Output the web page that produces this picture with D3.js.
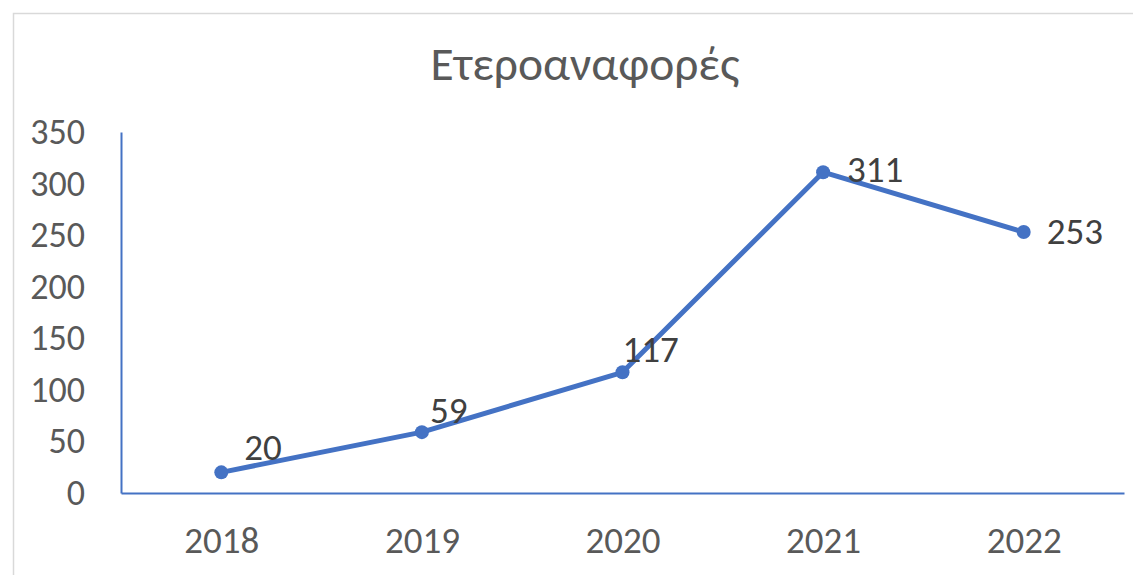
<!DOCTYPE html>
<html>
<head>
<meta charset="utf-8">
<script src="https://cdn.jsdelivr.net/npm/d3@7"></script>
<style>
    body { margin: 0; background: #fff; }
    svg text { font-family: Calibri, Carlito, "Open Sans", sans-serif; }
</style>
</head>
<body>
<div id="chart"></div>
<script>
// data
const years = ["2018", "2019", "2020", "2021", "2022"];
const values = [20, 59, 117, 311, 253];
const yTicks = [0, 50, 100, 150, 200, 250, 300, 350];
const title = "Ετεροαναφορές";

// label nudges (dx, dy) relative to each point
const labelOffsets = [[23, -21], [8, -18], [0, -19], [24, 1], [23, 3]];

const width = 1133, height = 575;
const margin = { top: 132, right: 9, bottom: 82, left: 121 };

const svg = d3.select("#chart")
    .append("svg")
    .attr("width", width)
    .attr("height", height);

// chart frame
svg.append("rect")
    .attr("x", 13.5)
    .attr("y", 13.5)
    .attr("width", width)
    .attr("height", height)
    .attr("fill", "none")
    .attr("stroke", "#d9d9d9")
    .attr("stroke-width", 1.5);

const x = d3.scalePoint()
    .domain(years)
    .range([margin.left, width - margin.right])
    .padding(0.5);

const y = d3.scaleLinear()
    .domain([0, 350])
    .range([height - margin.bottom, margin.top]);

// title
svg.append("text")
    .attr("x", 585)
    .attr("y", 80)
    .attr("text-anchor", "middle")
    .attr("fill", "#595959")
    .style("font-size", "47.5px")
    .text(title);

// Y axis
const yAxis = svg.append("g")
    .attr("transform", `translate(${margin.left},0)`)
    .call(d3.axisLeft(y).tickValues(yTicks).tickSize(0).tickPadding(36));
yAxis.select(".domain").attr("stroke", "#4472C4").attr("stroke-width", 2);
yAxis.selectAll("text")
    .attr("fill", "#595959")
    .style("font-size", "36px");

// X axis
const xAxis = svg.append("g")
    .attr("transform", `translate(0,${y(0)})`)
    .call(d3.axisBottom(x).tickSize(0).tickPadding(34));
xAxis.select(".domain").attr("stroke", "#4472C4").attr("stroke-width", 2);
xAxis.selectAll("text")
    .attr("fill", "#595959")
    .style("font-size", "37px");

// line
const line = d3.line()
    .x((d, i) => x(years[i]))
    .y(d => y(d));

svg.append("path")
    .datum(values)
    .attr("fill", "none")
    .attr("stroke", "#4472C4")
    .attr("stroke-width", 5)
    .attr("stroke-linejoin", "round")
    .attr("d", line);

// markers
svg.append("g")
    .selectAll("circle")
    .data(values)
    .join("circle")
    .attr("cx", (d, i) => x(years[i]))
    .attr("cy", d => y(d))
    .attr("r", 7)
    .attr("fill", "#4472C4");

// data labels
svg.append("g")
    .selectAll("text")
    .data(values)
    .join("text")
    .attr("x", (d, i) => x(years[i]) + labelOffsets[i][0])
    .attr("y", (d, i) => y(d) + labelOffsets[i][1])
    .attr("dominant-baseline", "middle")
    .attr("fill", "#404040")
    .style("font-size", "37px")
    .text(d => d);
</script>
</body>
</html>
